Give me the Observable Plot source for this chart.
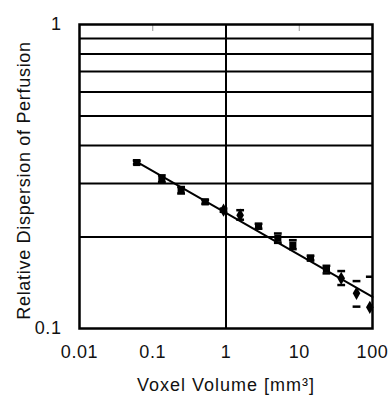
<!DOCTYPE html>
<html>
<head>
<meta charset="utf-8">
<script src="https://cdn.jsdelivr.net/npm/d3@7"></script>
<script src="https://cdn.jsdelivr.net/npm/@observablehq/plot@0.6"></script>
<style>
  html, body { margin: 0; padding: 0; background: #fff; }
  #chart svg { display: block; }
</style>
</head>
<body>
<div id="chart"></div>
<script>
// Voxel volume (mm^3) and relative dispersion of perfusion
const voxelVolume = [0.0605, 0.133, 0.244, 0.52, 0.925, 1.56, 2.78, 5.1, 8.17, 14.25, 23.5, 37.4, 60.5, 91.9];
const dispersion  = [0.3515, 0.309, 0.285, 0.261, 0.245, 0.236, 0.217, 0.198, 0.188, 0.1704, 0.1568, 0.1462, 0.1305, 0.1174];
const errLow      = [0.347, 0.303, 0.278, 0.257, 0.242, 0.228, 0.213, 0.1913, 0.1824, 0.1675, 0.1518, 0.139, 0.118, 0.093];
const errHigh     = [0.356, 0.319, 0.292, 0.265, 0.248, 0.245, 0.221, 0.2054, 0.1952, 0.1735, 0.1608, 0.1545, 0.1432, 0.148];
const markerShape = ["square","square","square","square","diamond","diamond","square","square","square","square","square","diamond","diamond","diamond"];

// Power-law fit line endpoints
const fitX = [0.055, 100];
const fitY = [0.358, 0.127];

// Grid and ticks
const gridY = [0.2, 0.3, 0.4, 0.5, 0.6, 0.7, 0.8, 0.9];
const gridX = [1];
const xTicks = [0.01, 0.1, 1, 10, 100];
const xTickLabels = ["0.01", "0.1", "1", "10", "100"];
const yTicks = [0.1, 1];
const yTickLabels = ["0.1", "1"];
const topMinorTicks = [0.1, 10];

const data = voxelVolume.map((x, i) => ({x, y: dispersion[i], lo: errLow[i], hi: errHigh[i], s: markerShape[i]}));
const fit = fitX.map((x, i) => ({x, y: fitY[i]}));

const capSymbol = {
  draw(context, size) {
    const w = Math.sqrt(size) * 0.55;
    context.moveTo(-w, 0);
    context.lineTo(w, 0);
  }
};

const xFmt = d => xTickLabels[xTicks.findIndex(t => Math.abs(t - d) < 1e-9 * Math.max(1, t))] ?? "";
const yFmt = d => yTickLabels[yTicks.findIndex(t => Math.abs(t - d) < 1e-9)] ?? "";

const chart = Plot.plot({
  width: 391,
  height: 396,
  marginLeft: 79,
  marginRight: 19,
  marginTop: 24,
  marginBottom: 68,
  style: {fontFamily: "'Liberation Sans', Arial, sans-serif", fontSize: "18px", background: "#fff", color: "#111"},
  x: {type: "log", domain: [0.01, 100]},
  y: {type: "log", domain: [0.1, 1]},
  marks: [
    Plot.ruleY(gridY, {stroke: "#000", strokeWidth: 2}),
    Plot.ruleX(gridX, {stroke: "#000", strokeWidth: 2}),
    Plot.axisX(topMinorTicks, {anchor: "top", tickSize: -6, tickFormat: () => "", stroke: "#999", label: null}),
    Plot.line(fit, {x: "x", y: "y", stroke: "#000", strokeWidth: 2}),
    Plot.dot(data, {x: "x", y: "hi", symbol: capSymbol, r: 4, stroke: "#000", strokeWidth: 2.5, fill: "none", clip: true}),
    Plot.dot(data, {x: "x", y: "lo", symbol: capSymbol, r: 4, stroke: "#000", strokeWidth: 2.5, fill: "none", clip: true}),
    Plot.dot(data, {x: "x", y: "y", symbol: "s", r: 4, fill: "#000", stroke: "none"}),
    Plot.frame({stroke: "#000", strokeWidth: 2.5}),
    Plot.axisX(xTicks, {tickSize: 0, tickPadding: 17, tickFormat: xFmt,
      label: "Voxel Volume [mm³]", labelAnchor: "center", labelOffset: 62, labelArrow: "none"}),
    Plot.axisY(yTicks, {tickSize: 0, tickPadding: 18, tickFormat: yFmt,
      label: "Relative Dispersion of Perfusion", labelAnchor: "center", labelOffset: 62, labelArrow: "none"})
  ]
});
d3.select(chart).selectAll('[aria-label="x-axis label"] text').style("letter-spacing", "1px");
d3.select(chart).selectAll('[aria-label="y-axis label"] text').style("letter-spacing", "0.7px");
d3.select(chart).selectAll('[aria-label="y-axis label"]').each(function() {
  const t = this.getAttribute("transform") || "";
  this.setAttribute("transform", "translate(0,4) " + t);
});
d3.select(chart).selectAll('[aria-label="x-axis tick label"] text, [aria-label="y-axis tick label"] text').style("letter-spacing", "0.6px");
document.getElementById("chart").appendChild(chart);
</script>
</body>
</html>
